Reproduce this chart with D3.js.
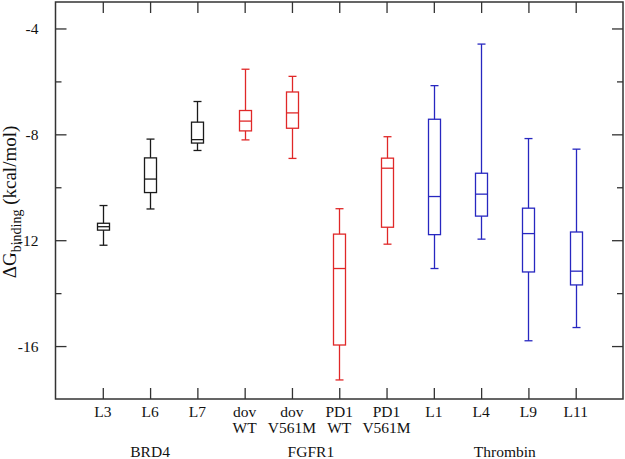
<!DOCTYPE html>
<html><head><meta charset="utf-8">
<script src="https://cdn.jsdelivr.net/npm/d3@7"></script>
<style>
html,body{margin:0;padding:0;background:#fff;}
svg text{font-family:'Liberation Serif','Times New Roman',Times,'DejaVu Serif',serif !important;}
</style></head>
<body>
<svg id="chart" width="625" height="459"></svg>
<script>
// ---- data ----
const categories = ["L3","L6","L7","dov\nWT","dov\nV561M","PD1\nWT","PD1\nV561M","L1","L4","L9","L11"];
const groupOf    = ["BRD4","BRD4","BRD4","FGFR1","FGFR1","FGFR1","FGFR1","Thrombin","Thrombin","Thrombin","Thrombin"];
const whiskerLow = [-12.19,-10.82,-8.61,-8.21,-8.91,-17.28,-12.15,-13.07,-11.96,-15.80,-15.30];
const q1         = [-11.62,-10.20,-8.33,-7.87,-7.77,-15.96,-11.51,-11.79,-11.09,-13.20,-13.69];
const medians    = [-11.49,-9.69,-8.20,-7.50,-7.19,-13.07,-9.28,-10.35,-10.26,-11.75,-13.17];
const q3         = [-11.36,-8.89,-7.54,-7.10,-6.40,-11.77,-8.90,-7.43,-9.47,-10.79,-11.69];
const whiskerHigh= [-10.69,-8.18,-6.76,-5.54,-5.81,-10.81,-8.09,-6.16,-4.59,-8.16,-8.56];
const groups = ["BRD4","FGFR1","Thrombin"];
const groupCenters = [2, 5.4, 9.5];
const yMajorTicks = [-4,-8,-12,-16];
const yMinorTicks = [-6,-10,-14];
const yDomain = [-18,-3];

const groupColor = {BRD4:"#1a1a1a", FGFR1:"#e02828", Thrombin:"#2727c0"};

// ---- layout ----
const FONT = "'Liberation Serif','Times New Roman',Times,'DejaVu Serif',serif";
const L = 55.5, R = 623, T = 2, B = 399;
const svg = d3.select("#chart");
const x = d3.scaleLinear().domain([0, categories.length + 1]).range([L, R]);
const y = d3.scaleLinear().domain(yDomain).range([B, T]);
const idx = d3.range(1, categories.length + 1);

const fs = "15.5px";
const axisColor = "#333";

function styleAxis(g){
  g.attr("font-family", FONT);
  g.select(".domain").remove();
  g.selectAll(".tick line").attr("stroke", axisColor).attr("stroke-width", 1.3);
  g.selectAll("text").attr("fill","#111").attr("font-size", fs).attr("font-family", FONT);
}
svg.append("g").attr("transform",`translate(${L},0)`)
  .call(d3.axisLeft(y).tickValues(yMajorTicks).tickSizeInner(-11).tickSizeOuter(0).tickPadding(17)
    .tickFormat(d => "-" + Math.abs(d)))
  .call(styleAxis);
svg.append("g").attr("transform",`translate(${L},0)`)
  .call(d3.axisLeft(y).tickValues(yMinorTicks).tickSizeInner(-6).tickSizeOuter(0).tickFormat(""))
  .call(styleAxis);
svg.append("g").attr("transform",`translate(${R},0)`)
  .call(d3.axisRight(y).tickValues(yMajorTicks).tickSizeInner(-11).tickSizeOuter(0).tickFormat(""))
  .call(styleAxis);
svg.append("g").attr("transform",`translate(${R},0)`)
  .call(d3.axisRight(y).tickValues(yMinorTicks).tickSizeInner(-6).tickSizeOuter(0).tickFormat(""))
  .call(styleAxis);
svg.append("g").attr("transform",`translate(0,${B})`)
  .call(d3.axisBottom(x).tickValues(idx).tickSizeInner(-11).tickSizeOuter(0).tickFormat(""))
  .call(styleAxis);
svg.append("g").attr("transform",`translate(0,${T})`)
  .call(d3.axisTop(x).tickValues(idx).tickSizeInner(-11).tickSizeOuter(0).tickFormat(""))
  .call(styleAxis);

// frame
svg.append("rect").attr("x",L).attr("y",T).attr("width",R-L).attr("height",B-T)
  .attr("fill","none").attr("stroke",axisColor).attr("stroke-width",1.5);

// category labels
const catG = svg.append("g").attr("font-family", FONT).attr("font-size", fs).attr("fill","#111");
categories.forEach((c,i) => {
  c.split("\n").forEach((line,j) => {
    catG.append("text").attr("x", x(i+1)).attr("y", 416.5 + j*16)
      .attr("text-anchor","middle").text(line);
  });
});

// group labels
groups.forEach((g,i) => {
  svg.append("text").attr("x", x(groupCenters[i])).attr("y", 456.5)
    .attr("text-anchor","middle").attr("font-family", FONT).attr("font-size", fs).attr("fill","#111").text(g);
});

// y label
const yl = svg.append("text").attr("transform","translate(16,202) rotate(-90)")
  .attr("text-anchor","middle").attr("fill","#111").attr("font-family", FONT).attr("font-size","19px");
yl.append("tspan").text("ΔG");
yl.append("tspan").attr("dy",5).attr("font-size","14px").text("binding");
yl.append("tspan").attr("dy",-5).text(" (kcal/mol)");

// boxes
const bw = 12, cw = 8;
const boxes = svg.append("g");
idx.forEach((n,k) => {
  const cx = Math.round(x(n)) + 0.5;
  const col = groupColor[groupOf[k]];
  const g = boxes.append("g").attr("stroke", col).attr("stroke-width",1.3).attr("fill","none");
  g.append("line").attr("x1",cx).attr("x2",cx).attr("y1",y(whiskerHigh[k])).attr("y2",y(q3[k]));
  g.append("line").attr("x1",cx).attr("x2",cx).attr("y1",y(q1[k])).attr("y2",y(whiskerLow[k]));
  g.append("line").attr("x1",cx-cw/2).attr("x2",cx+cw/2).attr("y1",y(whiskerHigh[k])).attr("y2",y(whiskerHigh[k]));
  g.append("line").attr("x1",cx-cw/2).attr("x2",cx+cw/2).attr("y1",y(whiskerLow[k])).attr("y2",y(whiskerLow[k]));
  g.append("rect").attr("x",cx-bw/2).attr("width",bw).attr("y",y(q3[k])).attr("height",y(q1[k])-y(q3[k]));
  g.append("line").attr("x1",cx-bw/2).attr("x2",cx+bw/2).attr("y1",y(medians[k])).attr("y2",y(medians[k]));
});
</script>
</body></html>
